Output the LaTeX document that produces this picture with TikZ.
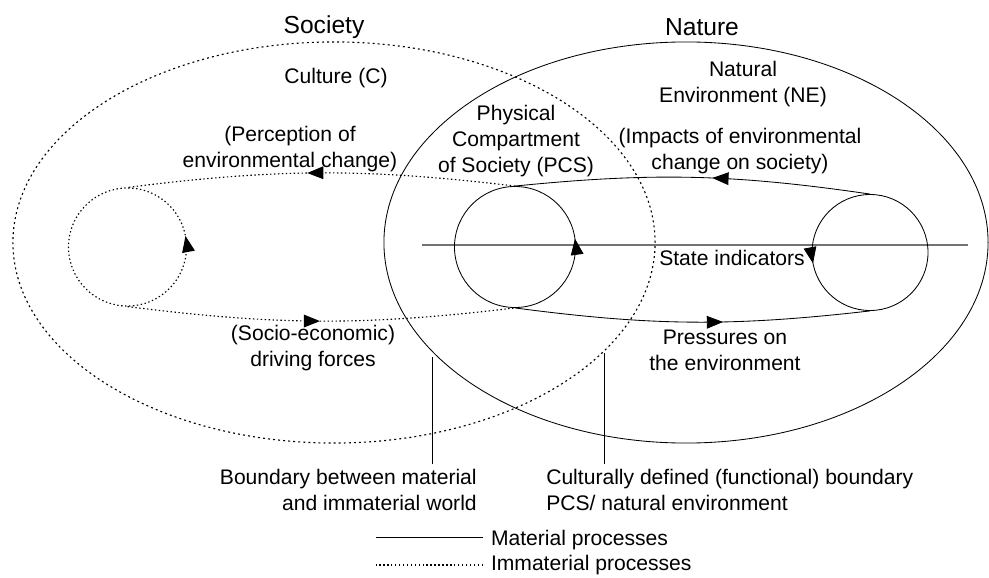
\documentclass[tikz,border=0pt]{standalone}
\usepackage{fontspec}
\setmainfont{Liberation Sans}
\usetikzlibrary{shapes.geometric, arrows.meta, decorations.markings}

\begin{document}
\begin{tikzpicture}[
  x=0.025cm, y=0.025cm,
  every node/.style={font=\fontsize{15}{18.5}\selectfont},
  lbl/.style={align=center, inner sep=0pt},
  big/.style={font=\fontsize{17.5}{20}\selectfont, inner sep=0pt},
  matl/.style={line width=0.6pt},
  immat/.style={line width=0.8pt, dash pattern=on 1pt off 1.8pt},
  realm/.style={draw, ellipse, inner sep=0pt, minimum height=10.025cm},
  ring/.style={draw, circle, inner sep=0pt},
  midtip/.style={postaction={decorate, decoration={markings,
      mark=at position #1 with {\arrow{Triangle[length=11.5pt, width=9pt]}}}}}
]
  \useasboundingbox (0,0) rectangle (989,-578);

  % Society and nature
  \node[realm, immat, dash pattern=on 1.4pt off 2.2pt, minimum width=16.05cm] (society) at (334,-242.5) {};
  \node[realm, matl, minimum width=15.1cm] (nature) at (686,-242.5) {};
  \node[big] (soclbl) at (324,-27) {Society};
  \node[big] (natlbl) at (702,-27) {Nature};

  % State line
  \coordinate (sw) at (422,-245);
  \coordinate (se) at (968,-245);
  \draw[black!55, line width=0.8pt] (sw) -- (se);

  % Loops
  \node[ring, immat, midtip=0.03, minimum size=2.95cm] (cloop) at (127.5,-247) {};
  \node[ring, matl, midtip=0.022, minimum size=3.025cm] (ploop) at (515,-247) {};
  \node[ring, matl, midtip=0.53, minimum size=2.9cm] (nloop) at (870,-252.5) {};

  % Flows
  \draw[matl, midtip=0.445] (nloop.north) to[bend right=7] (ploop.north);
  \draw[immat, midtip=0.536] (ploop.north) to[bend right=7] (cloop.north);
  \draw[immat, midtip=0.497] (cloop.south) to[bend right=7] (ploop.south);
  \draw[matl, midtip=0.586] (ploop.south) to[bend right=7] (nloop.south);

  % Labels
  \node[lbl] (culture) at (336,-78) {Culture (C)};
  \node[lbl] (natenv) at (743,-84) {Natural\\Environment (NE)};
  \node[lbl] (pcslbl) at (516,-141) {Physical\\Compartment\\of Society (PCS)};
  \node[lbl] (percep) at (290,-149) {(Perception of\\environmental change)};
  \node[lbl] (impact) at (740,-151) {(Impacts of environmental\\change on society)};
  \node[lbl] (state) at (732,-258) {State indicators};
  \node[lbl] (driving) at (313,-348) {(Socio-economic)\\driving forces};
  \node[lbl] (press) at (725,-350) {Pressures on\\the environment};

  % Boundaries
  \node[lbl, align=right, anchor=east, outer ysep=4pt] (bmat) at (477,-490)
    {Boundary between material\\and immaterial world};
  \node[lbl, align=left, anchor=west, outer ysep=4pt] (bcult) at (546,-490)
    {Culturally defined (functional) boundary\\PCS/ natural environment};
  \coordinate (bmtop) at (432,-357);
  \coordinate (bctop) at (604,-353);
  \draw[matl] (bmtop) -- (bmtop |- bmat.north);
  \draw[matl] (bctop) -- (bctop |- bcult.north);

  % Legend
  \node[anchor=west, inner sep=0pt, outer xsep=0.2cm] (lgmat) at (483,-540) {Material processes};
  \node[anchor=west, inner sep=0pt, outer xsep=0.2cm] (lgimm) at (483,-565) {Immaterial processes};
  \draw[matl] ([yshift=2pt]lgmat.west) -- ++(-107,0);
  \draw[immat] (lgimm.west) -- ++(-107,0);
\end{tikzpicture}
\end{document}
